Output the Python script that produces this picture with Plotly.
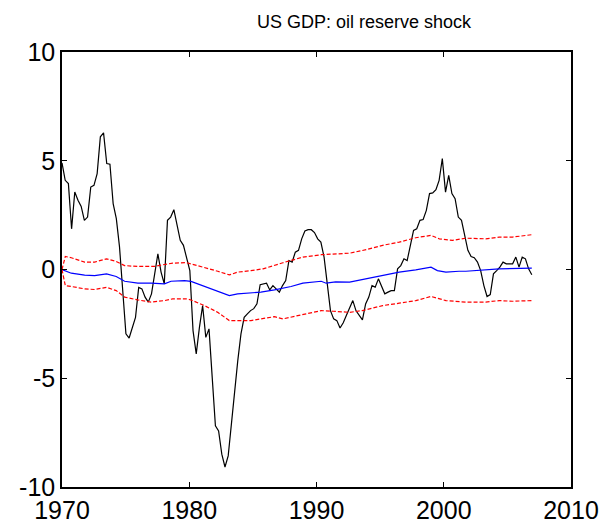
import numpy as np
import plotly.graph_objects as go

# impulse response of US GDP (quarterly, 1970 - 2007)
gdp_vals = [
    4.9, 4.1, 3.95, 1.87,
    3.56, 3.18, 2.9, 2.26,
    2.41, 3.79, 3.87, 4.41,
    6.1, 6.28, 4.87, 4.84,
    3.03, 2.34, 1.03, -1.12,
    -2.96, -3.15, -2.66, -2.2,
    -0.82, -0.89, -1.27, -1.5,
    -1.12, -0.2, 0.72, -0.12,
    -0.66, 2.26, 2.41, 2.75,
    2.03, 1.34, 1.11, 0.49,
    -0.05, -2.81, -3.88, -2.66,
    -1.66, -3.12, -2.73, -4.96,
    -7.19, -7.42, -8.49, -9.08,
    -8.57, -7.11, -5.58, -4.19,
    -2.96, -2.2, -2.04, -1.89,
    -1.8, -1.58, -0.7, -0.65,
    -0.63, -0.94, -0.74, -0.89,
    -1.04, -0.74, -0.51, 0.41,
    0.34, 0.8, 0.88, 1.41,
    1.77, 1.83, 1.83, 1.7,
    1.41, 1.26, 0.57, -0.66,
    -1.89, -2.27, -2.35, -2.69,
    -2.45, -2.1, -1.75, -1.43,
    -1.9, -2.12, -2.32, -1.58,
    -1.27, -0.74, -0.81, -0.43,
    -0.74, -1.12, -1.04, -0.97,
    -0.97, 0.03, 0.18, 0.49,
    0.41, 1.18, 1.8, 1.87,
    2.26, 2.3, 2.72, 3.49,
    3.52, 3.67, 4.1, 5.1,
    3.56, 4.33, 3.49, 3.26,
    2.41, 2.26, 1.64, 0.88,
    0.6, 0.54, 0.34, -0.05,
    -0.74, -1.24, -1.15, -0.2,
    -0.05, 0.11, 0.34, 0.26,
    0.26, 0.26, 0.57, 0.11,
    0.57, 0.49, 0.03, -0.24,
]
gdp_years = np.linspace(1970, 2006.92, len(gdp_vals))

# median response
med_years = [1970.0, 1970.73, 1971.78, 1972.56, 1973.5, 1974.26, 1974.92, 1975.96, 1977.0,
             1978.05, 1978.57, 1979.62, 1980.14, 1981.2, 1982.24, 1983.15, 1983.8, 1984.85,
             1985.63, 1986.7, 1988.0, 1988.93, 1990.37, 1990.76, 1991.5, 1992.6, 1993.9,
             1995.2, 1996.5, 1997.8, 1999.0, 1999.5, 2000.17, 2001.2, 2001.74, 2004.35, 2006.92]
med_vals = [0, -0.17, -0.26, -0.28, -0.2, -0.32, -0.54, -0.63, -0.63,
            -0.66, -0.54, -0.51, -0.55, -0.78, -1.0, -1.2, -1.12, -1.09,
            -1.04, -0.94, -0.78, -0.63, -0.54, -0.63, -0.57, -0.58, -0.43,
            -0.28, -0.12, -0.02, 0.11, -0.05, -0.12, -0.08, -0.08, 0.03, 0.06]

# upper confidence band
up_years = [1970.0, 1970.26, 1970.73, 1971.78, 1972.56, 1973.5, 1974.26, 1974.92, 1975.96,
            1977.27, 1978.05, 1978.7, 1979.75, 1980.14, 1981.2, 1982.24, 1983.15, 1983.8,
            1984.85, 1985.8, 1987.36, 1988.93, 1990.37, 1991.3, 1992.6, 1993.9, 1995.2,
            1996.5, 1997.8, 1999.0, 1999.65, 2000.7, 2001.74, 2003.3, 2004.35, 2005.4, 2006.92]
up_vals = [0, 0.6, 0.54, 0.34, 0.34, 0.49, 0.37, 0.18, 0.14,
           0.14, 0.23, 0.29, 0.32, 0.26, 0.11, -0.08, -0.25, -0.12,
           -0.05, 0.03, 0.31, 0.57, 0.68, 0.72, 0.75, 0.91, 1.11,
           1.26, 1.46, 1.57, 1.41, 1.34, 1.44, 1.41, 1.49, 1.49, 1.6]

# lower confidence band
lo_years = [1970.0, 1970.26, 1970.73, 1971.78, 1972.56, 1973.5, 1974.26, 1974.92, 1975.96,
            1977.0, 1978.05, 1978.7, 1979.75, 1980.14, 1981.2, 1982.24, 1983.15, 1984.85,
            1985.63, 1986.7, 1987.36, 1988.93, 1990.37, 1991.3, 1992.6, 1993.6, 1995.2,
            1996.5, 1997.8, 1999.0, 2000.17, 2001.74, 2003.3, 2004.35, 2005.4, 2006.92]
lo_vals = [0, -0.74, -0.78, -0.89, -0.92, -0.82, -0.97, -1.27, -1.4,
           -1.5, -1.43, -1.35, -1.35, -1.4, -1.66, -1.97, -2.35, -2.35,
           -2.27, -2.17, -2.27, -2.07, -1.89, -1.92, -1.97, -1.89, -1.66,
           -1.55, -1.43, -1.24, -1.43, -1.5, -1.5, -1.43, -1.46, -1.43]

x_ticks = [1970, 1980, 1990, 2000, 2010]
y_ticks = [-10, -5, 0, 5, 10]

fig = go.Figure()

fig.add_trace(go.Scatter(x=gdp_years, y=gdp_vals, mode='lines',
                         line=dict(color='black', width=1.2)))
fig.add_trace(go.Scatter(x=med_years, y=med_vals, mode='lines',
                         line=dict(color='#0000ff', width=1.2)))
fig.add_trace(go.Scatter(x=up_years, y=up_vals, mode='lines',
                         line=dict(color='red', width=1.2, dash='4px,2px')))
fig.add_trace(go.Scatter(x=lo_years, y=lo_vals, mode='lines',
                         line=dict(color='red', width=1.2, dash='4px,2px')))

axis_style = dict(
    showline=True, linecolor='black', linewidth=1.5, mirror='allticks',
    ticks='inside', ticklen=5, tickcolor='black', tickwidth=1,
    showgrid=False, zeroline=False, automargin=False,
    tickfont=dict(family='Liberation Sans, Arial, sans-serif', size=25, color='black'),
)

fig.update_xaxes(range=[1970, 2010], tickvals=x_ticks, ticklabelstandoff=0, **axis_style)
fig.update_yaxes(range=[-10, 10], tickvals=y_ticks, ticktext=[str(t) for t in y_ticks], **axis_style)

# the page body adds an 8px offset, so the figure is 8px smaller than the window
fig.update_layout(
    width=608, height=519,
    margin=dict(l=54, r=45, t=44, b=40),
    paper_bgcolor='white', plot_bgcolor='white',
    showlegend=False,
    title=dict(text='US GDP: oil reserve shock', x=356 / 608, xanchor='center', y=1 - 14 / 519, yanchor='middle',
               font=dict(family='Liberation Sans, Arial, sans-serif', size=18, color='black')),
)

fig.write_html("out.html")
